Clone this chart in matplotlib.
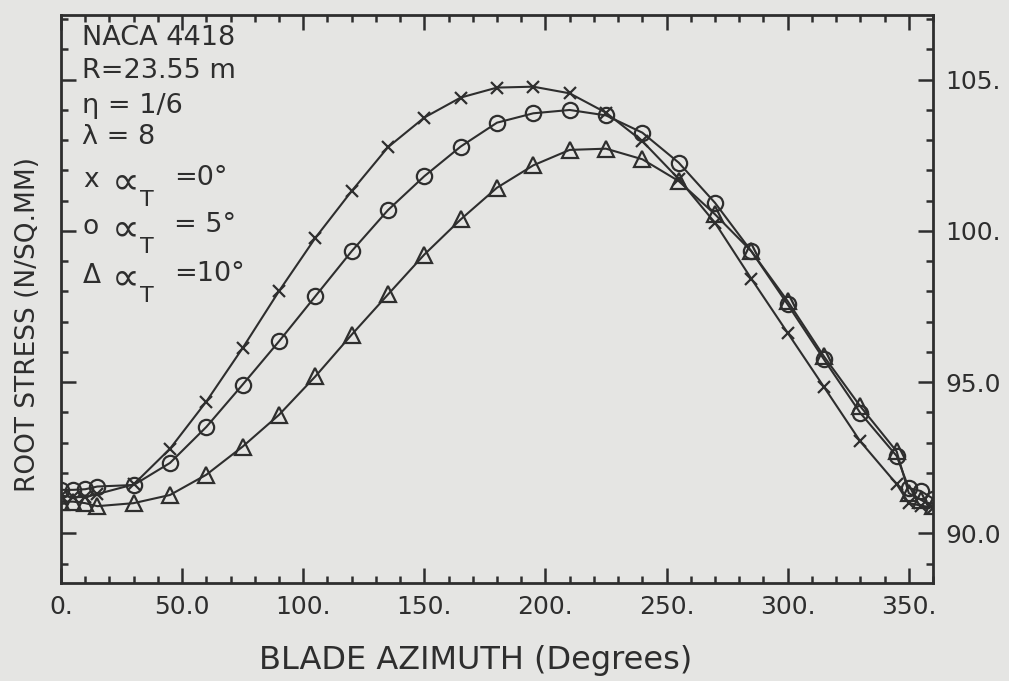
import matplotlib
matplotlib.use("Agg")
import matplotlib.pyplot as plt
from matplotlib.ticker import MultipleLocator, FixedLocator
from matplotlib import font_manager

# ---- data ----
azimuth = [0, 5, 10, 15, 30, 45, 60, 75, 90, 105, 120, 135, 150, 165, 180, 195,
           210, 225, 240, 255, 270, 285, 300, 315, 330, 345, 350, 355, 360]

stress_a0 = [91.25, 91.2, 91.2, 91.3, 91.62, 92.8, 94.36, 96.13, 98.01, 99.77,
             101.32, 102.77, 103.75, 104.41, 104.74, 104.77, 104.55, 103.91,
             102.97, 101.72, 100.27, 98.42, 96.63, 94.84, 93.04, 91.63, 91.0,
             90.92, 90.85]

stress_a5 = [91.44, 91.44, 91.46, 91.55, 91.6, 92.33, 93.52, 94.92, 96.35, 97.84,
             99.33, 100.69, 101.81, 102.79, 103.58, 103.89, 104.0, 103.82,
             103.25, 102.26, 100.93, 99.33, 97.57, 95.75, 93.98, 92.56, 91.5,
             91.4, 91.15]

stress_a10 = [91.05, 91.05, 91.0, 90.9, 91.0, 91.27, 91.94, 92.87, 93.92, 95.19,
              96.57, 97.9, 99.22, 100.38, 101.43, 102.17, 102.68, 102.72,
              102.37, 101.65, 100.55, 99.33, 97.68, 95.85, 94.2, 92.71, 91.33,
              91.11, 90.89]

x_ticks = [0, 50, 100, 150, 200, 250, 300, 350]
x_ticklabels = ["0.", "50.0", "100.", "150.", "200.", "250.", "300.", "350."]
y_ticks = [90, 95, 100, 105]
y_ticklabels = ["90.0", "95.0", "100.", "105."]

info_lines = ["NACA 4418", "R=23.55 m", "\u03b7 = 1/6", "\u03bb = 8"]
legend_marks = ["x", "o", "\u0394"]
legend_values = ["=0\u00b0", "= 5\u00b0", "=10\u00b0"]

# ---- style ----
paper = "#e5e5e3"
ink = "#2e2e2e"
plt.rcParams["font.family"] = ["DejaVu Sans"]

names = {f.name for f in font_manager.fontManager.ttflist}
narrow = "Liberation Sans Narrow" if "Liberation Sans Narrow" in names else "DejaVu Sans"
narrow_size = 22 if narrow != "DejaVu Sans" else 18

fig = plt.figure(figsize=(10.09, 6.81), dpi=100, facecolor=paper)
ax = fig.add_axes([61 / 1009, 1 - 583 / 681, (933 - 61) / 1009, (583 - 15) / 681])
ax.set_facecolor(paper)

ax.plot(azimuth, stress_a0, color=ink, lw=1.5, marker="x", ms=9, mew=1.6,
        mec=ink, zorder=3)
ax.plot(azimuth, stress_a5, color=ink, lw=1.5, marker="o", ms=11, mew=1.6,
        mfc="none", mec=ink, zorder=3)
ax.plot(azimuth, stress_a10, color=ink, lw=1.5, marker="^", ms=12, mew=1.6,
        mfc="none", mec=ink, zorder=3)

ax.set_xlim(0, 360)
ax.set_ylim(88.36, 107.14)

for s in ax.spines.values():
    s.set_linewidth(2.0)
    s.set_color(ink)

ax.xaxis.set_major_locator(FixedLocator(x_ticks))
ax.xaxis.set_minor_locator(MultipleLocator(10))
ax.set_xticklabels(x_ticklabels, fontfamily=narrow)
ax.yaxis.set_major_locator(FixedLocator(y_ticks))
ax.yaxis.set_minor_locator(MultipleLocator(1))
ax.set_yticklabels(y_ticklabels, fontfamily=narrow)

ax.tick_params(which="both", direction="in", top=True, right=True, left=True,
               bottom=True, labelleft=False, labelright=True, color=ink,
               width=1.8, labelcolor=ink)
ax.tick_params(which="major", length=11, labelsize=narrow_size, pad=9)
ax.tick_params(which="minor", length=5)

fig.text(476 / 1009, 1 - 660 / 681, "BLADE AZIMUTH (Degrees)", fontsize=23,
         color=ink, ha="center", va="center")
fig.text(28 / 1009, 1 - 325 / 681, "ROOT STRESS (N/SQ.MM)", fontsize=19,
         color=ink, ha="center", va="center", rotation=90)

# info block
ys_info = [38, 71, 106, 137]
for txt, yp in zip(info_lines, ys_info):
    fig.text(82 / 1009, 1 - yp / 681, txt, fontsize=19.5, color=ink,
             va="center", ha="left")

ys_leg = [180, 227, 276]
for mk, val, yp in zip(legend_marks, legend_values, ys_leg):
    fig.text(83 / 1009, 1 - yp / 681, mk, fontsize=19, color=ink,
             va="center", ha="left")
    fig.text(112 / 1009, 1 - (yp + 2) / 681, "\u221d", fontsize=28, color=ink,
             va="center", ha="left")
    fig.text(140 / 1009, 1 - (yp + 20) / 681, "T", fontsize=16, color=ink,
             va="center", ha="left")
    fig.text(174 / 1009, 1 - (yp - 2) / 681, val, fontsize=19.5, color=ink,
             va="center", ha="left")

fig.savefig("out.png", dpi=100, facecolor=paper)
